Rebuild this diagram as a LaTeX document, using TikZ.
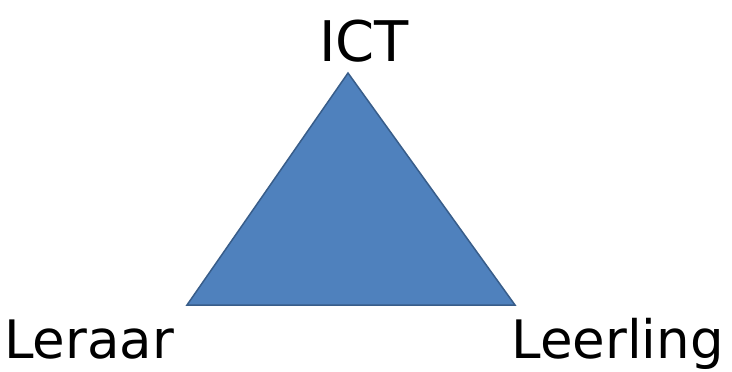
\documentclass[tikz,border=0pt]{standalone}
\usepackage{fontspec}
\setmainfont{DejaVu Sans}
\definecolor{trifill}{HTML}{4F81BD}
\definecolor{triline}{HTML}{385D8A}
\begin{document}
\begin{tikzpicture}[x=1pt,y=-1pt,
  lbl/.style={inner sep=0pt,font=\fontsize{53}{56}\selectfont,text=black}]
\useasboundingbox (0,0) rectangle (732,372);
\coordinate (top) at (348,73);
\coordinate (bl) at (187,305);
\coordinate (br) at (515,305);
\fill[trifill,draw=triline,line width=1.5pt,line join=miter] (top) -- (bl) -- (br) -- cycle;
\node[lbl,anchor=base,font=\fontsize{56}{58}\selectfont] (ict) at (364,61) {ICT};
\node[lbl,anchor=base west] (leraar) at (4,358) {Leraar};
\node[lbl,anchor=base east] (leerling) at (724,358) {Leerling};
\end{tikzpicture}
\end{document}
